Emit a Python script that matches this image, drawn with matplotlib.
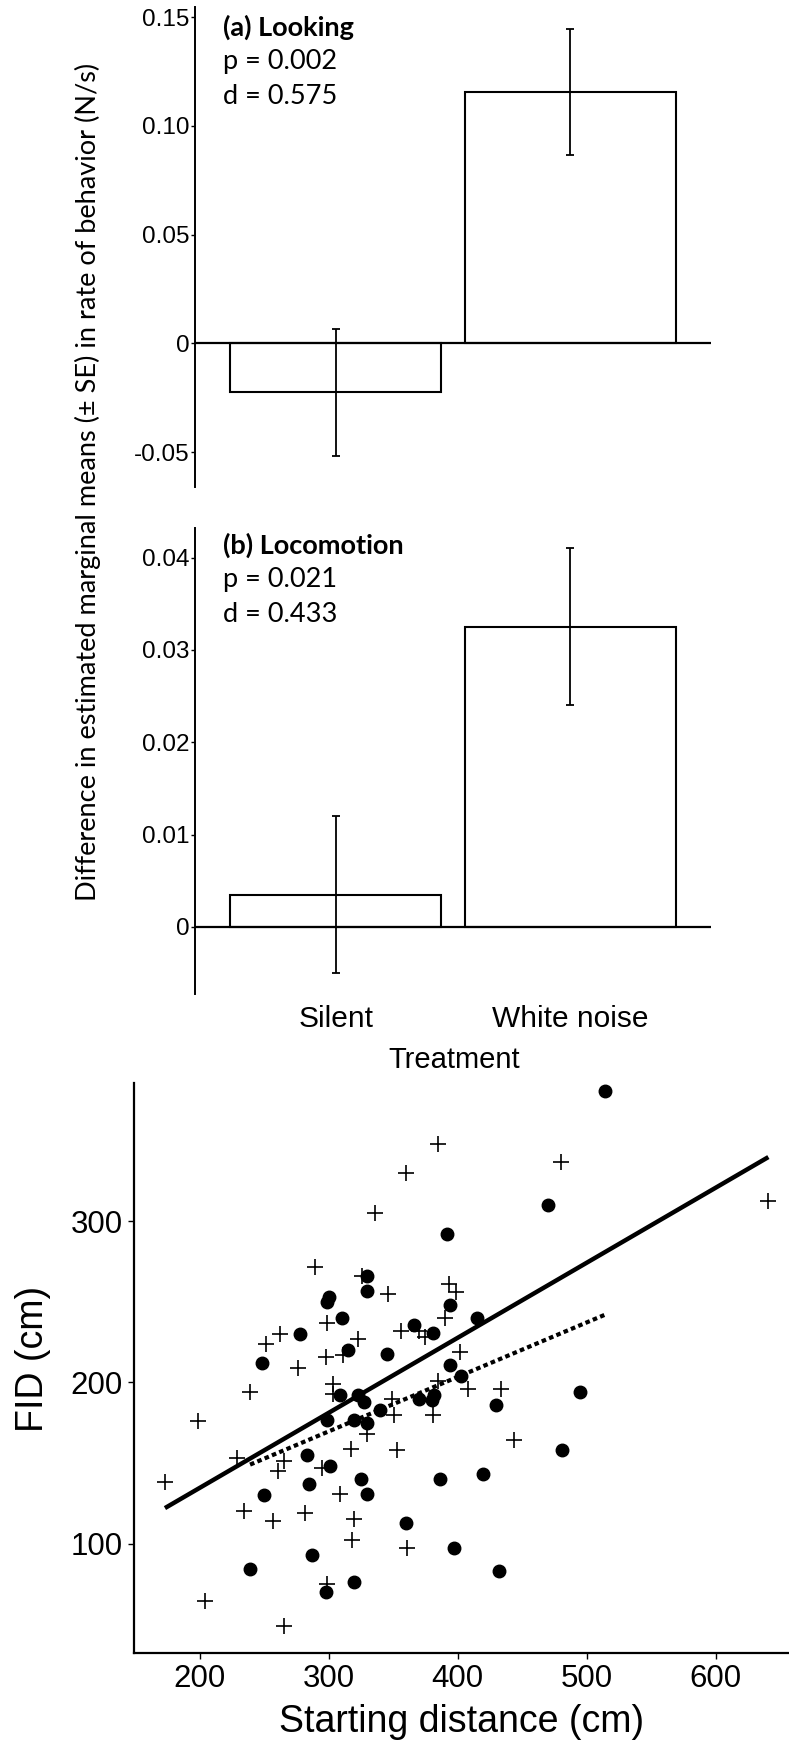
import numpy as np
import matplotlib
matplotlib.use("Agg")
import matplotlib.pyplot as plt

# Bar panels: difference in estimated marginal means (± SE)
treatments = ["Silent", "White noise"]
looking_mean = [-0.0225, 0.1155]
looking_se = [0.0293, 0.0290]
locomotion_mean = [0.0035, 0.0325]
locomotion_se = [0.0085, 0.0085]

looking_ticks = [-0.05, 0, 0.05, 0.10, 0.15]
looking_ticklabels = ["-0.05", "0", "0.05", "0.10", "0.15"]
locomotion_ticks = [0, 0.01, 0.02, 0.03, 0.04]
locomotion_ticklabels = ["0", "0.01", "0.02", "0.03", "0.04"]

# Scatter panel: FID vs starting distance
circle_x = [514, 470, 392, 330, 330, 300, 299, 310, 394, 415, 366, 381, 278, 315,
            345, 248, 394, 403, 309, 323, 327, 370, 382, 380, 340, 430, 495, 299,
            320, 330, 481, 283, 301, 325, 386, 420, 285, 250, 330, 360, 397, 287,
            239, 432, 320, 298]
circle_y = [381, 310, 292, 266, 257, 253, 250, 240, 248, 240, 236, 231, 230, 220,
            218, 212, 211, 204, 192, 192, 188, 190, 192, 189, 183, 186, 194, 177,
            177, 175, 158, 155, 148, 140, 140, 143, 137, 130, 131, 113, 97, 93,
            84, 83, 76, 70]
plus_x = [385, 480, 360, 641, 336, 289, 326, 393, 399, 346, 299, 390, 262, 356,
          370, 375, 323, 251, 298, 311, 402, 276, 303, 303, 239, 385, 408, 434,
          349, 351, 381, 199, 330, 317, 353, 444, 229, 265, 261, 295, 173, 309,
          234, 282, 320, 257, 318, 361, 299, 204, 265]
plus_y = [348, 337, 330, 313, 305, 272, 266, 261, 256, 255, 237, 240, 230, 232,
          232, 228, 227, 224, 216, 217, 219, 209, 199, 193, 194, 201, 196, 196,
          190, 180, 180, 176, 168, 159, 158, 164, 153, 151, 145, 147, 138, 131,
          120, 119, 115, 114, 102, 97, 75, 64, 49]

# fitted lines (end points)
solid_x = [173, 641]
solid_y = [122, 340]
dotted_x = [239, 514]
dotted_y = [149, 242]

W, H = 789, 1750
fig = plt.figure(figsize=(W / 100, H / 100), dpi=100)

ARIAL = "Liberation Sans"
CALIBRI = "Lato"


def bar_panel(rect, means, ses, ylim, ticks, ticklabels, show_x):
    ax = fig.add_axes(rect)
    x = np.arange(1, len(treatments) + 1)
    ax.bar(x, means, width=0.9, color="white", edgecolor="black", linewidth=1.5, zorder=2)
    ax.errorbar(x, means, yerr=ses, fmt="none", ecolor="black", elinewidth=1.3,
                capsize=3, capthick=1.3, zorder=3)
    ax.axhline(0, color="black", linewidth=1.6, zorder=4)
    ax.set_xlim(0.4, 2.6)
    ax.set_ylim(*ylim)
    for s in ["top", "right", "bottom"]:
        ax.spines[s].set_visible(False)
    ax.spines["left"].set_linewidth(1.4)
    ax.set_yticks(ticks)
    ax.set_yticklabels(ticklabels, fontfamily=ARIAL, fontsize=17.5)
    ax.tick_params(axis="y", length=3, width=1, pad=1)
    ax.set_xticks(x)
    if show_x:
        ax.set_xticklabels(treatments, fontfamily=ARIAL, fontsize=21.5)
        ax.tick_params(axis="x", length=0, pad=8)
    else:
        ax.set_xticklabels([])
        ax.tick_params(axis="x", length=0)
    return ax


ax_a = bar_panel([195 / W, 1 - 487 / H, 516 / W, 480 / H], looking_mean, looking_se,
                 (-0.066, 0.1546), looking_ticks, looking_ticklabels, False)
ax_b = bar_panel([195 / W, 1 - 994 / H, 516 / W, 466 / H], locomotion_mean, locomotion_se,
                 (-0.00727, 0.0432), locomotion_ticks, locomotion_ticklabels, True)

# panel annotations
fig.text(223 / W, 1 - 27 / H, "(a) Looking", fontfamily=CALIBRI, fontweight="bold",
         fontsize=19.5, va="center")
fig.text(223 / W, 1 - 62 / H, "p = 0.002", fontfamily=CALIBRI, fontsize=19.5, va="center")
fig.text(223 / W, 1 - 97 / H, "d = 0.575", fontfamily=CALIBRI, fontsize=19.5, va="center")
fig.text(223 / W, 1 - 545 / H, "(b) Locomotion", fontfamily=CALIBRI, fontweight="bold",
         fontsize=19.5, va="center")
fig.text(223 / W, 1 - 580 / H, "p = 0.021", fontfamily=CALIBRI, fontsize=19.5, va="center")
fig.text(223 / W, 1 - 615 / H, "d = 0.433", fontfamily=CALIBRI, fontsize=19.5, va="center")

fig.text(88 / W, 1 - 482 / H,
         "Difference in estimated marginal means (\u00b1 SE) in rate of behavior (N/s)",
         rotation=90, ha="center", va="center", fontfamily=CALIBRI, fontsize=19.5)
fig.text(454 / W, 1 - 1060 / H, "Treatment", ha="center", va="center",
         fontfamily=ARIAL, fontsize=21)

# scatter panel
ax_c = fig.add_axes([134 / W, 1 - 1653 / H, 655 / W, 570 / H])
ax_c.plot(circle_x, circle_y, "o", color="black", markersize=9, zorder=3)
ax_c.plot(plus_x, plus_y, "+", color="black", markersize=12, markeredgewidth=1.2, zorder=3)
ax_c.plot(solid_x, solid_y, "-", color="black", linewidth=3.2, solid_capstyle="butt", zorder=4)
ax_c.plot(dotted_x, dotted_y, color="black", linewidth=3.0, linestyle=(0, (1.1, 0.8)),
          dash_capstyle="butt", zorder=4)
ax_c.set_xlim(149, 657)
ax_c.set_ylim(32, 386)
ax_c.set_xticks([200, 300, 400, 500, 600])
ax_c.set_yticks([100, 200, 300])
for s in ["top", "right"]:
    ax_c.spines[s].set_visible(False)
for s in ["left", "bottom"]:
    ax_c.spines[s].set_linewidth(1.6)
ax_c.tick_params(length=4, width=1, labelsize=22.5, pad=4)
for lab in ax_c.get_xticklabels() + ax_c.get_yticklabels():
    lab.set_fontfamily(ARIAL)
ax_c.set_xlabel("Starting distance (cm)", fontfamily=ARIAL, fontsize=27, labelpad=7)
fig.text(33 / W, 1 - 1359 / H, "FID (cm)", rotation=90, ha="center", va="center",
         fontfamily=ARIAL, fontsize=27)

fig.savefig("out.png", dpi=100, facecolor="white")
